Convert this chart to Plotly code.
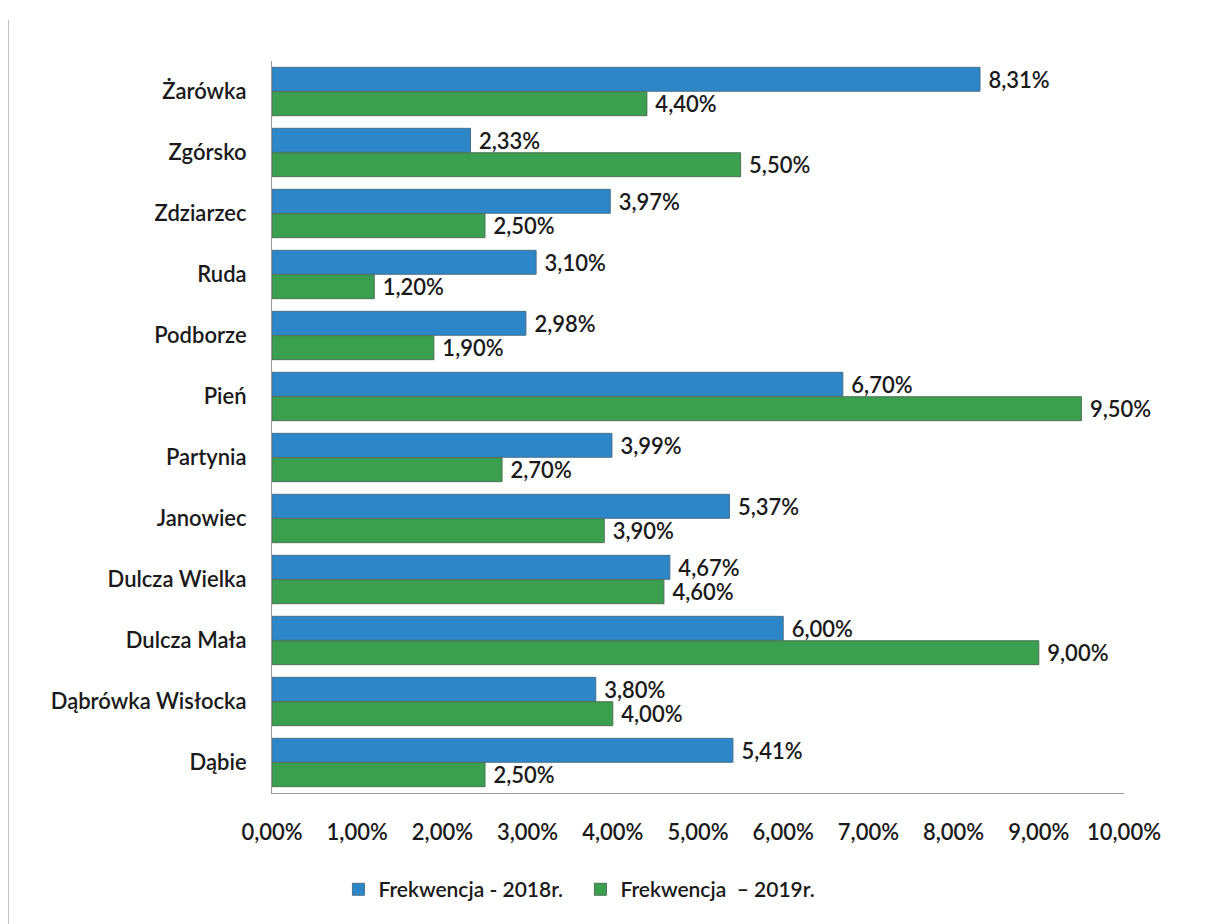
import plotly.graph_objects as go

villages = [
    "Żarówka", "Zgórsko", "Zdziarzec", "Ruda", "Podborze", "Pień",
    "Partynia", "Janowiec", "Dulcza Wielka", "Dulcza Mała",
    "Dąbrówka Wisłocka", "Dąbie",
]
turnout_2018 = [8.31, 2.33, 3.97, 3.10, 2.98, 6.70, 3.99, 5.37, 4.67, 6.00, 3.80, 5.41]
turnout_2019 = [4.40, 5.50, 2.50, 1.20, 1.90, 9.50, 2.70, 3.90, 4.60, 9.00, 4.00, 2.50]
x_ticks = [0, 1, 2, 3, 4, 5, 6, 7, 8, 9, 10]

FONT = "Lato, Open Sans, sans-serif"

fig = go.Figure()
fig.add_trace(
    go.Bar(
        y=villages,
        x=turnout_2018,
        orientation="h",
        name="Frekwencja - 2018r.",
        marker=dict(color="#2c86c8", line=dict(color="#4a6f8a", width=1)),
        texttemplate="\u00a0%{x:.2f}%",
        textposition="outside",
        constraintext="none",
        textfont=dict(size=22, color="#1a1a1a", weight=600),
        cliponaxis=False,
    )
)
fig.add_trace(
    go.Bar(
        y=villages,
        x=turnout_2019,
        orientation="h",
        name="Frekwencja  – 2019r.",
        marker=dict(color="#3a9f4e", line=dict(color="#4e7057", width=1)),
        texttemplate="\u00a0%{x:.2f}%",
        textposition="outside",
        constraintext="none",
        textfont=dict(size=22, color="#1a1a1a", weight=600),
        cliponaxis=False,
    )
)
fig.update_layout(
    width=1197,
    height=916,
    barmode="group",
    bargap=0.2,
    bargroupgap=0.02,
    separators=", ",
    paper_bgcolor="white",
    plot_bgcolor="white",
    font=dict(family=FONT, size=22, color="#1a1a1a", weight=600),
    margin=dict(l=264, r=81, t=53, b=131),
    legend=dict(
        orientation="h",
        x=0.362,
        xanchor="center",
        y=-0.132,
        yanchor="middle",
        font=dict(size=21, weight=600),
        itemwidth=30,
        entrywidth=197,
        entrywidthmode="pixels",
    ),
    shapes=[
        dict(type="line", xref="paper", yref="paper", x0=-0.31, x1=-0.31,
             y0=-0.179, y1=1.056, line=dict(color="#bbbbbb", width=2)),
    ],
)
fig.update_xaxes(
    range=[0, 10],
    tickvals=x_ticks,
    ticktext=[f"{v},00%" for v in x_ticks],
    showgrid=False,
    zeroline=False,
    showline=True,
    linecolor="#999999",
    ticklabelstandoff=20,
    tickfont=dict(size=22, weight=600),
)
fig.update_yaxes(
    autorange="reversed",
    showgrid=False,
    showline=True,
    linecolor="#999999",
    ticklabelstandoff=20,
    tickfont=dict(size=22, weight=600),
)
fig.write_html("out.html")
